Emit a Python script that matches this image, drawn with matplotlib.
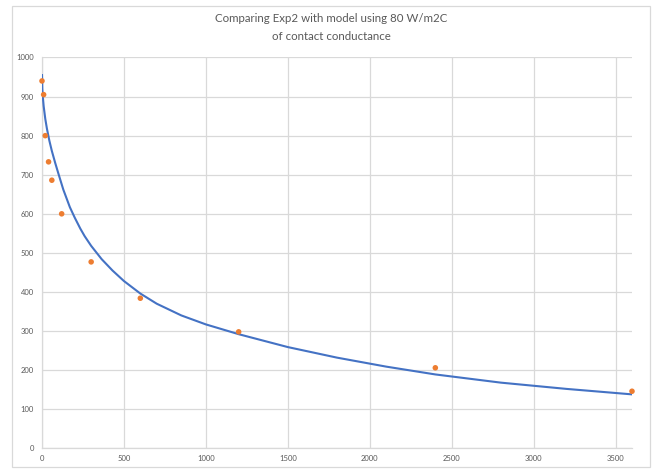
import matplotlib.pyplot as plt
from matplotlib.patches import Rectangle

# experiment 2 measurements
exp_t = [0, 10, 20, 40, 60, 120, 300, 600, 1200, 2400, 3600]
exp_T = [940, 905, 800, 733, 686, 600, 477, 384, 298, 206, 146]

# model, 80 W/m2C contact conductance
model_t = [0, 2, 5, 10, 20, 30, 45, 60, 80, 100, 130, 170, 200, 234, 260, 300, 364, 430, 500,
           600, 700, 850, 1000, 1200, 1500, 1800, 2100, 2400, 2800, 3200, 3600]
model_T = [955, 920, 900, 876, 843, 818, 787, 761, 731, 703, 662, 617, 590, 562, 543, 518, 484, 455, 428,
           396, 370, 340, 317, 292, 259, 232, 209, 189, 168, 152, 138]

x_ticks = [0, 500, 1000, 1500, 2000, 2500, 3000, 3500]
y_ticks = [0, 100, 200, 300, 400, 500, 600, 700, 800, 900, 1000]

plt.rcParams['font.family'] = ['Lato', 'DejaVu Sans']
grid_col = '#d9d9d9'
text_col = '#595959'

fig = plt.figure(figsize=(6.52, 4.69), dpi=100)
ax = fig.add_axes([42 / 652, 1 - 448.3 / 469, 590 / 652, (448.3 - 57.5) / 469])

ax.plot(model_t, model_T, color='#4472C4', lw=1.5, zorder=3, solid_joinstyle='round')
ax.scatter(exp_t, exp_T, s=16, color='#ED7D31', edgecolors='none', zorder=4, clip_on=False)

ax.set_xlim(0, 3600)
ax.set_ylim(0, 1000)
ax.set_xticks(x_ticks)
ax.set_yticks(y_ticks)
ax.grid(True, color=grid_col, lw=0.9)
ax.set_axisbelow(True)
for s in ['top', 'right']:
    ax.spines[s].set_visible(False)
for s in ['left', 'bottom']:
    ax.spines[s].set_color(grid_col)
    ax.spines[s].set_linewidth(0.9)
ax.tick_params(length=0, labelsize=5.5, labelcolor=text_col)
ax.tick_params(axis='y', pad=6)
ax.tick_params(axis='x', pad=5)

fig.text(0.508, 1 - 18 / 469, 'Comparing Exp2 with model using 80 W/m2C', ha='center', va='center',
         fontsize=8.3, color=text_col)
fig.text(0.508, 1 - 36 / 469, 'of contact conductance', ha='center', va='center',
         fontsize=8.3, color=text_col)

fig.patches.append(Rectangle((12 / 652, 1 - 467 / 469), 638 / 652, 461 / 469,
                             transform=fig.transFigure, fill=False, edgecolor=grid_col, lw=0.9))

fig.savefig('out.png', dpi=100)
